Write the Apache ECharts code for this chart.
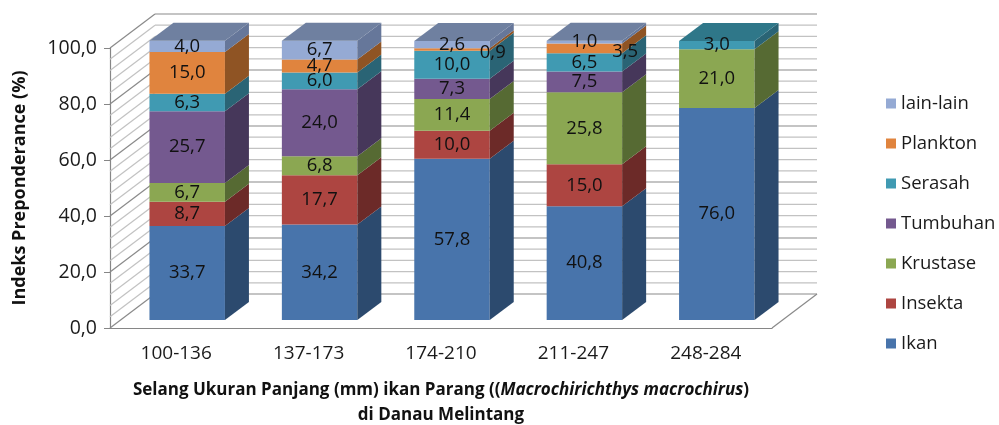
<!DOCTYPE html>
<html>
<head>
<meta charset="utf-8">
<script src="https://cdn.jsdelivr.net/npm/echarts@6.0.0/dist/echarts.min.js"></script>
<style>html,body{margin:0;padding:0;background:#fff}#chart{width:999px;height:425px}</style>
</head>
<body>
<div id="chart"></div>
<script>
// ---- data ----
const CATEGORIES = ['100-136', '137-173', '174-210', '211-247', '248-284'];
const IKAN     = [33.7, 34.2, 57.8, 40.8, 76.0];
const INSEKTA  = [8.7, 17.7, 10.0, 15.0, 0];
const KRUSTASE = [6.7, 6.8, 11.4, 25.8, 21.0];
const TUMBUHAN = [25.7, 24.0, 7.3, 7.5, 0];
const SERASAH  = [6.3, 6.0, 10.0, 6.5, 3.0];
const PLANKTON = [15.0, 4.7, 0.9, 3.5, 0];
const LAIN     = [4.0, 6.7, 2.6, 1.0, 0];
const SERIES_NAMES = ['Ikan', 'Insekta', 'Krustase', 'Tumbuhan', 'Serasah', 'Plankton', 'lain-lain'];
const SERIES_VALUES = [IKAN, INSEKTA, KRUSTASE, TUMBUHAN, SERASAH, PLANKTON, LAIN];
const LEGEND_ORDER = ['lain-lain', 'Plankton', 'Serasah', 'Tumbuhan', 'Krustase', 'Insekta', 'Ikan'];
const Y_MIN = 0, Y_MAX = 100, Y_STEP = 20, Y_MINOR_STEP = 4;
const X_TITLE_1 = 'Selang Ukuran Panjang (mm) ikan Parang ((';
const X_TITLE_ITALIC = 'Macrochirichthys macrochirus';
const X_TITLE_2 = ')';
const X_TITLE_LINE2 = 'di Danau Melintang';
const Y_TITLE = 'Indeks Preponderance (%)';

// ---- styles ----
const COLORS = [
  {front: '#4874AB', side: '#2C4A6E', top: '#3A5F8A'},
  {front: '#AD4541', side: '#6C2A28', top: '#8A3733'},
  {front: '#8BA752', side: '#566A33', top: '#6F8740'},
  {front: '#74598F', side: '#46375A', top: '#5A4672'},
  {front: '#409AB2', side: '#2A6475', top: '#2F7789'},
  {front: '#E0843E', side: '#8F5424', top: '#B06B30'},
  {front: '#95AAD4', side: '#66779A', top: '#6F80A0'}
];
const FONT = '"Open Sans", "DejaVu Sans", sans-serif';
const WALL_DX = 45, WALL_DY = -34;
const BAR_DX = 24, BAR_DY = -18;
const BAR_FRAC = 0.57;
const fmt = v => v.toFixed(1).replace('.', ',');

const chart = echarts.init(document.getElementById('chart'), null, {renderer: 'canvas'});

function valueAt(s, i) { return SERIES_VALUES[s][i] || 0; }
function isTop(s, i) {
  for (let k = s + 1; k < SERIES_VALUES.length; k++) if (valueAt(k, i) > 0) return false;
  return true;
}
function nextValue(s, i) {
  for (let k = s + 1; k < SERIES_VALUES.length; k++) if (valueAt(k, i) > 0) return valueAt(k, i);
  return null;
}

function makeBarSeries(s) {
  return {
    type: 'custom',
    name: SERIES_NAMES[s],
    xAxisIndex: 1, yAxisIndex: 1,
    itemStyle: {color: COLORS[s].front},
    data: CATEGORIES.map((c, i) => [i, SERIES_VALUES[s][i]]),
    encode: {x: 0, y: 1},
    clip: false,
    renderItem: function (params, api) {
      const i = api.value(0), v = api.value(1);
      if (!(v > 0)) return null;
      let base = 0;
      for (let k = 0; k < s; k++) base += valueAt(k, i);
      const c0 = api.coord([i, base]);
      const c1 = api.coord([i, base + v]);
      const w = api.size([1, 0])[0] * BAR_FRAC;
      const x0 = c0[0] - w / 2, x1 = x0 + w;
      const yb = c0[1], yt = c1[1];
      const col = COLORS[s];
      const children = [
        {type: 'rect', shape: {x: x0, y: yt, width: w, height: yb - yt}, style: {fill: col.front}},
        {type: 'polygon', shape: {points: [[x1, yb], [x1 + BAR_DX, yb + BAR_DY], [x1 + BAR_DX, yt + BAR_DY], [x1, yt]]}, style: {fill: col.side}}
      ];
      if (isTop(s, i)) {
        children.push({type: 'polygon', shape: {points: [[x0, yt], [x1, yt], [x1 + BAR_DX, yt + BAR_DY], [x0 + BAR_DX, yt + BAR_DY]]}, style: {fill: col.top}});
      }
      let lx = c0[0], ly = (yb + yt) / 2;
      const nv = nextValue(s, i);
      if (nv !== null && v + nv < 5) { lx = x1 + 3; ly += 3; }
      children.push({
        type: 'text', z2: 100,
        style: {text: fmt(v), x: lx, y: ly, align: 'center', verticalAlign: 'middle',
                fontSize: 18.5, fontFamily: FONT, fill: '#111'}
      });
      return {type: 'group', children: children};
    }
  };
}

const ticks = [];
for (let v = Y_MIN; v <= Y_MAX + 1e-9; v += Y_MINOR_STEP) ticks.push(v);

const frameSeries = {
  type: 'custom',
  name: 'frame',
  xAxisIndex: 0, yAxisIndex: 0,
  silent: true,
  clip: false,
  z: 1,
  data: ticks.map(v => [0, v]),
  encode: {x: 0, y: 1},
  renderItem: function (params, api) {
    const v = api.value(1);
    const band = api.size([1, 0])[0];
    const p = api.coord([0, v]);
    const xl = p[0] - band / 2;
    const xr = xl + band * CATEGORIES.length;
    const major = Math.abs(v / Y_STEP - Math.round(v / Y_STEP)) < 1e-6;
    const color = major ? '#8a8a8a' : '#c2c2c2';
    const children = [
      {type: 'line', shape: {x1: xl, y1: p[1], x2: xl + WALL_DX, y2: p[1] + WALL_DY}, style: {stroke: color, lineWidth: 1.2}},
      {type: 'line', shape: {x1: xl + WALL_DX, y1: p[1] + WALL_DY, x2: xr + WALL_DX, y2: p[1] + WALL_DY}, style: {stroke: color, lineWidth: 1.2}}
    ];
    if (v === Y_MIN) {
      children.push({type: 'line', shape: {x1: xr, y1: p[1], x2: xr + WALL_DX, y2: p[1] + WALL_DY}, style: {stroke: '#8a8a8a', lineWidth: 1.2}});
    }
    return {type: 'group', children: children};
  }
};

const option = {
  animation: false,
  backgroundColor: '#ffffff',
  title: {
    left: 441, top: 378, textAlign: 'center', padding: 0,
    text: '{b|' + X_TITLE_1 + '}{i|' + X_TITLE_ITALIC + '}{b|' + X_TITLE_2 + '}\n{b|' + X_TITLE_LINE2 + '}',
    textStyle: {
      rich: {
        b: {fontFamily: FONT, fontWeight: 'bold', fontSize: 17, color: '#111', lineHeight: 25},
        i: {fontFamily: FONT, fontWeight: 'bold', fontStyle: 'italic', fontSize: 17, color: '#111', lineHeight: 25}
      }
    }
  },
  legend: {
    data: LEGEND_ORDER,
    orient: 'vertical',
    left: 881, top: 89,
    itemWidth: 10, itemHeight: 10, itemGap: 21,
    icon: 'rect',
    selectedMode: false,
    textStyle: {fontFamily: FONT, fontSize: 18.5, color: '#1a1a1a', lineHeight: 16, padding: [0, 0, 0, 0]}
  },
  grid: [
    {left: 110, top: 48, width: 662, height: 280},
    {left: 121, top: 41, width: 662, height: 279}
  ],
  xAxis: [
    {type: 'category', gridIndex: 0, data: CATEGORIES,
     axisLine: {show: true, lineStyle: {color: '#868686', width: 1.2}},
     axisTick: {show: false},
     axisLabel: {fontFamily: FONT, fontSize: 19, color: '#1a1a1a', margin: 16}},
    {type: 'category', gridIndex: 1, data: CATEGORIES, show: false}
  ],
  yAxis: [
    {type: 'value', gridIndex: 0, min: Y_MIN, max: Y_MAX, interval: Y_STEP,
     name: Y_TITLE, nameLocation: 'middle', nameRotate: 90, nameGap: 81,
     nameTextStyle: {fontFamily: FONT, fontWeight: 'bold', fontSize: 18, color: '#111'},
     axisLine: {show: true, lineStyle: {color: '#868686', width: 1.2}},
     axisTick: {show: true, length: 6, lineStyle: {color: '#868686'}},
     splitLine: {show: false},
     axisLabel: {fontFamily: FONT, fontSize: 19.5, color: '#1a1a1a', margin: 13, formatter: v => fmt(v)}},
    {type: 'value', gridIndex: 1, min: Y_MIN, max: Y_MAX, show: false, splitLine: {show: false}}
  ],
  series: [frameSeries].concat(SERIES_NAMES.map((n, s) => makeBarSeries(s)))
};
chart.setOption(option);
</script>
</body>
</html>
